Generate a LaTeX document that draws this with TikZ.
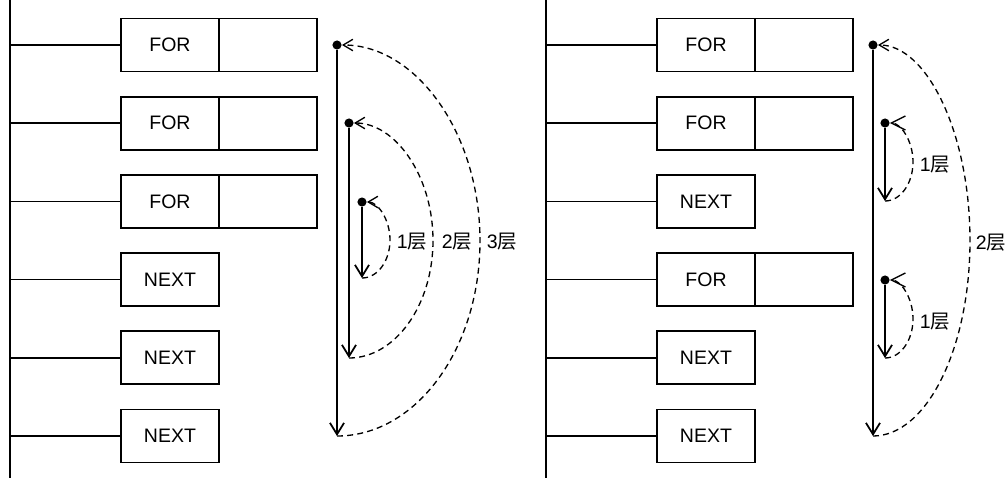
\documentclass[tikz,border=0pt]{standalone}
\usepackage{fontspec}
\setmainfont{Liberation Sans}
\newfontfamily\cjk{Noto Sans CJK SC}
\usetikzlibrary{arrows.meta,positioning}

\begin{document}
\begin{tikzpicture}[x=0.02cm,y=-0.02cm,
  cell/.style={draw,line width=1pt,minimum width=1.96cm,minimum height=1.06cm,
    inner sep=0pt,outer sep=0pt,font=\fontsize{11.1}{13}\selectfont},
  rung/.style={line width=1pt},
  jump/.style={line width=1pt,-{Straight Barb[length=6.5pt,width=8pt]}},
  loop/.style={line width=0.75pt,dash pattern=on 3.4pt off 2.4pt,-{Straight Barb[length=5.5pt,width=6.5pt]}},
  bigloop/.style={loop,-{Straight Barb[length=8pt,width=8pt]}},
  dot/.style={circle,fill,inner sep=0pt,minimum size=5.2pt},
  layer/.style={font=\fontsize{11.1}{13}\selectfont}]
\useasboundingbox (0,0) rectangle (1008,478);

% left ladder: three nested loops
\coordinate (Ltop) at (10,0);
\coordinate (Lbot) at (10,478);
\draw[rung] (Ltop) -- (Lbot);
\foreach \lbl [count=\i] in {FOR,FOR,FOR,NEXT,NEXT,NEXT} {
  \pgfmathsetmacro\ry{45+78.2*(\i-1)}
  \node[cell,anchor=west] (L\i) at (121,\ry) {\lbl};
  \coordinate (LR\i) at (10,\ry);
  \draw[rung] (LR\i) -- (L\i);
}
\foreach \i in {1,2,3} \node[cell,right=0pt of L\i] (Lx\i) {};

\node[dot] (lt1) at (337,45) {};
\coordinate (lb1) at (337,436);
\coordinate (lm1) at (480,241);
\draw[jump] (lt1) -- (lb1);
\draw[loop] (lb1) .. controls +(79,0) and +(0,108) .. (lm1) .. controls +(0,-108) and +(79,0) .. (lt1);

\node[dot] (lt2) at (349,123) {};
\coordinate (lb2) at (349,358);
\coordinate (lm2) at (433,240.5);
\draw[jump] (lt2) -- (lb2);
\draw[loop] (lb2) .. controls +(46,0) and +(0,65) .. (lm2) .. controls +(0,-65) and +(46,0) .. (lt2);

\node[dot] (lt3) at (362,202) {};
\coordinate (lb3) at (362,278);
\coordinate (lm3) at (390,240);
\draw[jump] (lt3) -- (lb3);
\draw[loop] (lb3) .. controls +(15.5,0) and +(0,21) .. (lm3) .. controls +(0,-21) and +(15.5,0) .. (lt3);

\node[layer] (ln1) at (412,242) {1{\cjk 层}};
\node[layer] (ln2) at (457,242) {2{\cjk 层}};
\node[layer] (ln3) at (502,242) {3{\cjk 层}};

% right ladder: two loops inside one
\coordinate (Rtop) at (546,0);
\coordinate (Rbot) at (546,478);
\draw[rung] (Rtop) -- (Rbot);
\foreach \lbl [count=\i] in {FOR,FOR,NEXT,FOR,NEXT,NEXT} {
  \pgfmathsetmacro\ry{45+78.2*(\i-1)}
  \node[cell,anchor=west] (R\i) at (657,\ry) {\lbl};
  \coordinate (RR\i) at (546,\ry);
  \draw[rung] (RR\i) -- (R\i);
}
\foreach \i in {1,2,4} \node[cell,right=0pt of R\i] (Rx\i) {};

\node[dot] (rt1) at (873,45) {};
\coordinate (rb1) at (873,436);
\coordinate (rm1) at (970,240.5);
\draw[jump] (rt1) -- (rb1);
\draw[loop] (rb1) .. controls +(53.6,0) and +(0,108) .. (rm1) .. controls +(0,-108) and +(53.6,0) .. (rt1);

\node[dot] (rt2) at (885,123) {};
\coordinate (rb2) at (885,201);
\coordinate (rm2) at (913,162);
\draw[jump] (rt2) -- (rb2);
\draw[bigloop] (rb2) .. controls +(15.5,0) and +(0,21.5) .. (rm2) .. controls +(0,-21.5) and +(15.5,0) .. (rt2);

\node[dot] (rt3) at (885,280) {};
\coordinate (rb3) at (885,358);
\coordinate (rm3) at (913,319);
\draw[jump] (rt3) -- (rb3);
\draw[bigloop] (rb3) .. controls +(15.5,0) and +(0,21.5) .. (rm3) .. controls +(0,-21.5) and +(15.5,0) .. (rt3);

\node[layer] (rn1) at (935,165) {1{\cjk 层}};
\node[layer] (rn2) at (935,322) {1{\cjk 层}};
\node[layer] (rn3) at (991,243) {2{\cjk 层}};
\end{tikzpicture}
\end{document}
